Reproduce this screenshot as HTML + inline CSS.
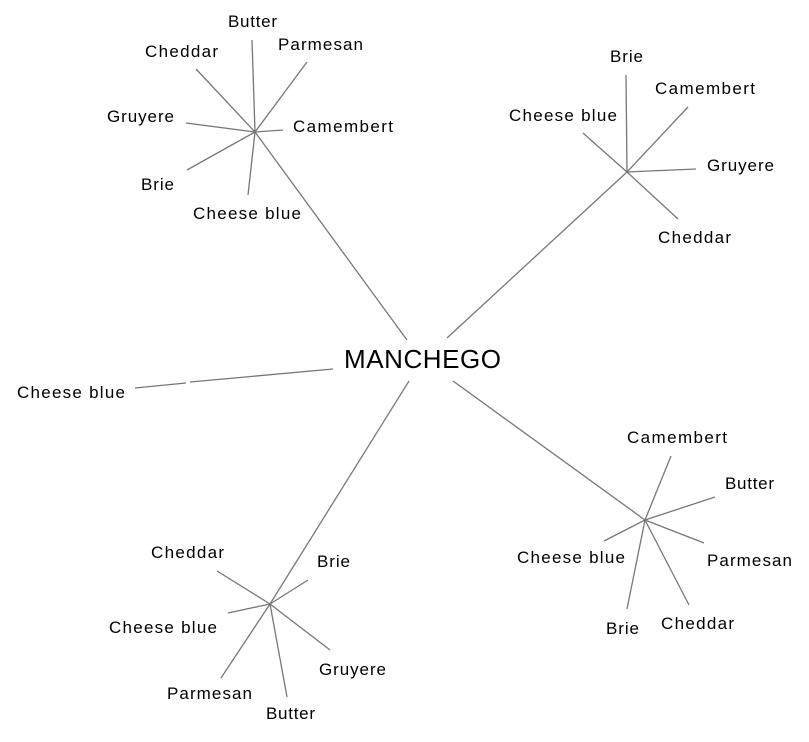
<!DOCTYPE html>
<html><head><style>
body{margin:0;background:#fff}
svg text{font-family:"Liberation Sans",Arial,sans-serif;font-size:17px;fill:#000}
</style></head><body>
<svg width="809" height="737" viewBox="0 0 809 737">
<g stroke="#777" stroke-width="1.3" fill="none">
<line x1="255" y1="132" x2="252" y2="40"/>
<line x1="255" y1="132" x2="307" y2="62"/>
<line x1="255" y1="132" x2="196" y2="69"/>
<line x1="255" y1="132" x2="186" y2="123"/>
<line x1="255" y1="132" x2="283" y2="130"/>
<line x1="255" y1="132" x2="187" y2="170"/>
<line x1="255" y1="132" x2="248" y2="195"/>
<line x1="255" y1="132" x2="407" y2="340"/>
<line x1="627" y1="172" x2="626" y2="75"/>
<line x1="627" y1="172" x2="688" y2="107"/>
<line x1="627" y1="172" x2="583" y2="133"/>
<line x1="627" y1="172" x2="696" y2="169"/>
<line x1="627" y1="172" x2="678" y2="219"/>
<line x1="627" y1="172" x2="447" y2="338"/>
<line x1="645" y1="520" x2="671" y2="456"/>
<line x1="645" y1="520" x2="715" y2="497"/>
<line x1="645" y1="520" x2="604" y2="541"/>
<line x1="645" y1="520" x2="704" y2="543"/>
<line x1="645" y1="520" x2="627" y2="609"/>
<line x1="645" y1="520" x2="689" y2="605"/>
<line x1="645" y1="520" x2="453" y2="381"/>
<line x1="270" y1="604" x2="217" y2="571"/>
<line x1="270" y1="604" x2="308" y2="580"/>
<line x1="270" y1="604" x2="228" y2="613"/>
<line x1="270" y1="604" x2="330" y2="650"/>
<line x1="270" y1="604" x2="221" y2="678"/>
<line x1="270" y1="604" x2="287" y2="697"/>
<line x1="270" y1="604" x2="409" y2="381"/>
<line x1="333" y1="369" x2="190" y2="382"/>
<line x1="186" y1="383" x2="135" y2="388"/>
</g>
<text x="344" y="368" style="font-size:26px" textLength="157" lengthAdjust="spacing">MANCHEGO</text>
<text x="228" y="27" textLength="49" lengthAdjust="spacing">Butter</text>
<text x="145" y="57" textLength="73" lengthAdjust="spacing">Cheddar</text>
<text x="278" y="50" textLength="85" lengthAdjust="spacing">Parmesan</text>
<text x="107" y="122" textLength="67" lengthAdjust="spacing">Gruyere</text>
<text x="293" y="132" textLength="100" lengthAdjust="spacing">Camembert</text>
<text x="141" y="190" textLength="33" lengthAdjust="spacing">Brie</text>
<text x="193" y="219" textLength="108" lengthAdjust="spacing">Cheese blue</text>
<text x="610" y="62" textLength="33" lengthAdjust="spacing">Brie</text>
<text x="655" y="94" textLength="100" lengthAdjust="spacing">Camembert</text>
<text x="509" y="121" textLength="108" lengthAdjust="spacing">Cheese blue</text>
<text x="707" y="171" textLength="67" lengthAdjust="spacing">Gruyere</text>
<text x="658" y="243" textLength="73" lengthAdjust="spacing">Cheddar</text>
<text x="17" y="398" textLength="108" lengthAdjust="spacing">Cheese blue</text>
<text x="627" y="443" textLength="100" lengthAdjust="spacing">Camembert</text>
<text x="725" y="489" textLength="49" lengthAdjust="spacing">Butter</text>
<text x="517" y="563" textLength="108" lengthAdjust="spacing">Cheese blue</text>
<text x="707" y="566" textLength="85" lengthAdjust="spacing">Parmesan</text>
<text x="606" y="634" textLength="33" lengthAdjust="spacing">Brie</text>
<text x="661" y="629" textLength="73" lengthAdjust="spacing">Cheddar</text>
<text x="151" y="558" textLength="73" lengthAdjust="spacing">Cheddar</text>
<text x="317" y="567" textLength="33" lengthAdjust="spacing">Brie</text>
<text x="109" y="633" textLength="108" lengthAdjust="spacing">Cheese blue</text>
<text x="319" y="675" textLength="67" lengthAdjust="spacing">Gruyere</text>
<text x="167" y="699" textLength="85" lengthAdjust="spacing">Parmesan</text>
<text x="266" y="719" textLength="49" lengthAdjust="spacing">Butter</text>
</svg>
</body></html>
